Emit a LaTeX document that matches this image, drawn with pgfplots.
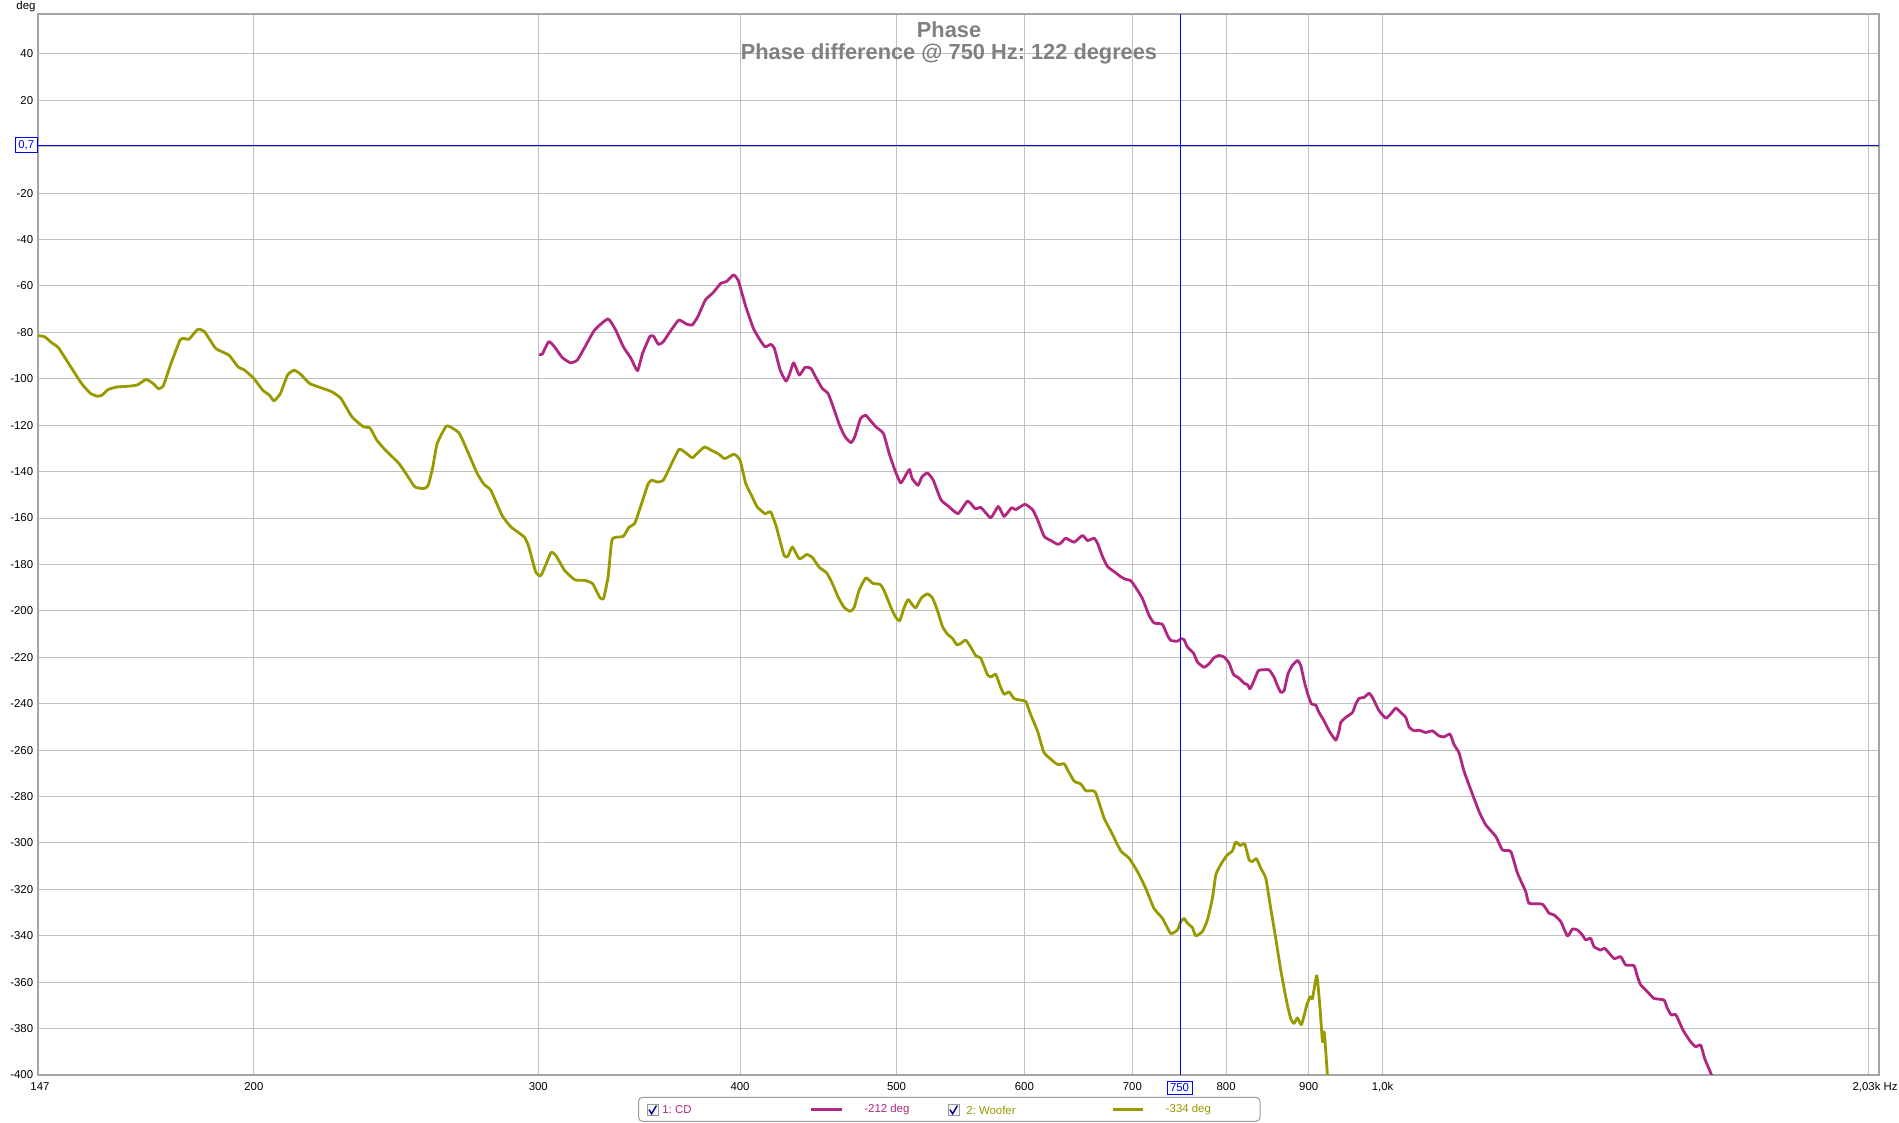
\documentclass[border=0pt]{standalone}
\usepackage{pgfplots}
\usepackage{pgfplotstable}
\pgfplotsset{compat=1.18}
\usepackage{fontspec}
\setmainfont{Liberation Sans}
\frenchspacing
\definecolor{cdcol}{RGB}{176,38,128}
\definecolor{wfcol}{RGB}{153,153,0}
\definecolor{gridcol}{RGB}{192,192,192}
\definecolor{framecol}{RGB}{165,165,165}
\definecolor{titlecol}{RGB}{128,128,128}
\newcommand\tickfont{\fontsize{5.7}{6.8}\selectfont}

\pgfplotstableread{
f deg
300.4 -89.5
301.7 -89.4
304.5 -84.0
307.0 -86.2
310.4 -90.8
314.1 -93.1
317.2 -91.9
320.7 -86.2
325.1 -79.0
331.4 -74.2
335.0 -79.0
338.7 -86.2
342.4 -91.2
345.6 -96.5
348.1 -89.1
351.9 -81.6
353.8 -81.9
356.1 -85.2
358.6 -84.0
362.6 -79.0
366.6 -74.7
370.6 -76.4
373.7 -76.8
376.7 -73.2
380.8 -66.0
385.0 -62.9
389.3 -58.8
392.4 -58.1
396.3 -55.3
398.9 -57.4
403.3 -68.9
407.7 -78.3
411.0 -82.6
414.5 -86.2
417.9 -85.2
420.1 -86.9
423.6 -96.3
427.1 -101.0
429.4 -97.7
431.8 -93.1
435.3 -98.4
438.8 -95.1
442.5 -95.5
446.1 -99.9
449.8 -104.2
453.5 -106.3
457.2 -112.8
461.0 -120.0
464.7 -125.0
468.6 -127.5
471.1 -125.0
475.0 -117.1
478.4 -115.7
481.5 -117.8
485.5 -120.7
490.8 -123.6
494.8 -132.2
498.9 -139.4
503.0 -144.9
507.2 -140.9
509.4 -139.1
511.3 -143.0
515.6 -145.9
518.4 -142.3
522.6 -140.6
526.9 -143.7
532.7 -152.1
538.6 -155.0
545.9 -158.1
553.4 -152.7
559.5 -156.0
564.1 -155.5
571.9 -159.9
578.1 -155.0
582.9 -159.3
589.3 -155.5
592.5 -156.4
600.5 -154.1
607.1 -156.4
611.4 -160.7
617.2 -167.9
623.1 -169.7
629.1 -171.3
632.1 -170.8
636.6 -168.7
644.2 -170.4
651.9 -167.5
656.6 -169.7
662.8 -168.7
666.0 -170.8
670.8 -176.6
675.6 -180.9
682.0 -183.1
688.5 -185.3
693.4 -186.4
698.4 -187.0
703.3 -189.9
710.1 -194.7
716.8 -201.9
721.9 -205.2
730.6 -205.8
735.8 -210.5
739.3 -212.7
746.4 -213.1
750.2 -212.0
753.5 -212.4
757.2 -215.6
763.7 -218.2
768.1 -222.1
775.3 -224.3
780.9 -222.8
786.5 -220.2
792.1 -219.2
797.8 -219.9
803.4 -222.5
808.5 -227.4
815.0 -229.0
820.8 -231.2
824.8 -231.8
827.8 -233.6
832.6 -230.0
837.8 -225.7
844.5 -225.4
850.6 -225.4
856.7 -228.6
860.8 -232.2
864.9 -235.1
869.0 -234.4
873.9 -227.1
879.4 -223.5
885.7 -221.4
889.9 -223.5
894.1 -230.0
898.5 -235.5
903.6 -240.1
909.1 -240.6
913.4 -243.8
920.0 -247.4
926.6 -251.7
935.5 -255.7
939.9 -251.7
942.1 -248.1
948.9 -245.9
958.0 -243.8
962.5 -240.1
967.1 -237.7
974.0 -237.3
980.9 -235.5
985.7 -237.3
995.0 -243.0
1004.6 -246.2
1011.8 -244.4
1019.0 -241.9
1026.3 -243.8
1033.6 -245.9
1038.5 -250.0
1045.9 -251.7
1053.4 -251.4
1063.5 -252.4
1073.7 -251.7
1083.9 -253.9
1091.7 -254.3
1101.0 -253.1
1107.3 -257.6
1115.2 -261.2
1123.2 -269.1
1134.0 -277.0
1147.5 -286.4
1158.5 -292.2
1175.2 -297.2
1186.4 -303.0
1200.6 -303.7
1212.1 -313.0
1226.5 -321.0
1232.3 -326.0
1256.1 -326.4
1268.0 -330.3
1277.0 -331.0
1289.3 -333.9
1301.7 -340.1
1311.0 -337.1
1320.3 -337.5
1329.8 -339.7
1336.1 -341.8
1345.6 -341.1
1352.0 -344.7
1364.9 -346.2
1372.7 -345.4
1391.1 -349.8
1404.4 -349.0
1414.5 -352.6
1431.3 -352.9
1438.3 -357.6
1445.0 -361.2
1458.9 -364.1
1472.7 -367.0
1493.9 -367.7
1501.1 -371.3
1509.7 -374.2
1519.0 -373.9
1529.9 -378.5
1537.1 -381.4
1551.8 -385.7
1562.9 -387.8
1574.1 -387.1
1583.1 -392.9
1592.9 -397.3
1600.6 -400.9
}\cdtable

\pgfplotstableread{
f deg
147.0 -81.4
148.4 -81.9
150.1 -84.8
151.3 -86.5
154.0 -94.8
156.4 -102.0
158.4 -106.3
160.0 -107.5
161.0 -107.1
162.5 -104.6
164.6 -103.5
167.3 -103.2
169.4 -102.6
171.5 -100.3
173.2 -102.0
174.5 -104.2
175.7 -103.2
177.7 -93.4
180.0 -83.3
181.1 -82.6
182.3 -83.0
184.6 -78.7
186.4 -79.7
189.4 -86.9
193.0 -89.8
195.5 -94.8
197.4 -96.3
200.0 -99.9
202.5 -104.9
204.5 -107.1
205.8 -109.5
207.7 -106.3
209.8 -98.4
211.8 -96.3
213.8 -98.1
216.5 -102.0
219.3 -103.5
223.5 -105.6
226.4 -108.5
230.0 -116.4
233.8 -120.7
236.0 -121.2
238.3 -126.5
241.3 -130.8
246.0 -136.6
249.2 -142.3
251.6 -146.6
254.8 -147.3
256.4 -145.9
258.1 -138.0
259.7 -127.9
263.1 -120.4
265.6 -121.4
268.1 -123.6
271.6 -132.2
275.0 -140.9
277.7 -145.5
280.4 -148.1
284.9 -158.9
288.6 -163.9
294.1 -168.2
296.0 -172.5
298.9 -183.3
301.1 -184.8
303.7 -179.0
305.6 -174.7
307.6 -176.1
311.5 -182.6
316.1 -186.6
320.7 -186.9
324.2 -188.3
327.4 -194.1
329.2 -194.8
331.4 -185.5
333.2 -169.6
335.9 -168.2
338.7 -167.9
341.5 -163.9
344.2 -162.4
347.1 -155.2
350.9 -145.2
352.8 -143.7
355.7 -144.5
358.6 -143.7
361.6 -138.7
366.6 -130.5
369.6 -131.5
373.7 -134.0
376.7 -131.9
380.2 -129.4
384.0 -130.8
388.2 -132.5
391.4 -134.4
396.7 -132.5
400.0 -135.1
403.3 -145.2
406.6 -150.2
409.9 -155.2
414.5 -158.1
417.9 -157.4
421.3 -163.9
425.9 -176.1
428.2 -176.5
431.0 -172.5
435.3 -177.6
440.0 -175.7
443.6 -177.1
447.8 -181.2
452.7 -183.7
456.4 -188.4
460.1 -194.1
464.0 -198.5
468.0 -200.2
470.7 -198.5
474.0 -191.2
478.6 -185.8
483.2 -188.1
488.4 -188.6
491.2 -191.2
496.0 -198.5
499.5 -202.8
502.4 -204.2
505.4 -198.7
508.3 -195.1
511.0 -197.0
513.9 -198.7
518.1 -194.4
522.6 -192.7
526.3 -194.4
530.1 -199.9
533.9 -206.8
537.7 -210.0
541.6 -211.9
544.9 -214.6
548.0 -214.0
551.9 -212.6
555.9 -215.7
559.9 -219.4
563.9 -220.4
569.3 -227.6
572.5 -228.4
576.0 -227.3
579.6 -232.3
582.9 -235.9
587.1 -234.9
591.3 -237.8
597.0 -238.5
601.3 -239.1
605.6 -244.9
611.4 -251.8
616.7 -260.7
621.6 -263.3
629.1 -266.2
635.0 -265.9
638.1 -268.4
644.2 -273.4
650.3 -274.6
655.0 -277.5
661.3 -277.5
664.4 -278.5
672.3 -289.3
678.8 -295.0
688.5 -303.4
696.7 -306.6
705.0 -312.3
713.4 -319.5
721.9 -328.2
730.6 -332.5
739.3 -339.0
746.4 -337.5
750.0 -334.0
753.5 -332.5
757.2 -334.6
762.6 -336.5
766.2 -340.0
773.6 -338.2
779.1 -333.2
784.7 -323.8
788.4 -313.8
794.0 -309.4
800.8 -305.4
807.3 -303.4
811.1 -299.6
816.1 -301.1
821.6 -300.5
826.7 -307.3
830.7 -308.0
835.4 -306.8
840.6 -310.9
846.6 -315.2
852.6 -328.2
858.7 -341.1
864.9 -354.8
872.3 -368.5
877.3 -375.7
881.4 -377.8
885.7 -375.4
890.8 -378.3
897.6 -369.9
901.8 -366.3
904.9 -367.0
910.5 -357.2
914.7 -371.3
917.9 -385.7
920.0 -381.4
921.3 -385.7
924.4 -400.1
}\wftable

\begin{document}
\begin{tikzpicture}
\path[use as bounding box] (-19pt,-24pt) rectangle (930.5pt,537.5pt);
\begin{axis}[
  at={(0pt,0pt)}, anchor=south west, scale only axis,
  width=920.5pt, height=530.5pt,
  xmode=log, log basis x=10,
  xmin=147, xmax=2030, ymin=-400, ymax=57.2,
  xtick={200,300,400,500,600,700,800,900,1000,2000},
  xticklabels={200,300,400,500,600,700,800,900,{1,0k},{}},
  ytick={-400,-380,-360,-340,-320,-300,-280,-260,-240,-220,-200,-180,-160,-140,-120,-100,-80,-60,-40,-20,0,20,40},
  yticklabels={-400,-380,-360,-340,-320,-300,-280,-260,-240,-220,-200,-180,-160,-140,-120,-100,-80,-60,-40,-20,{},20,40},
  major tick length=0pt, minor tick num=0,
  xminorgrids=false,
  grid=major,
  major grid style={draw=gridcol, line width=0.5pt},
  axis line style={draw=framecol, line width=1.4pt},
  ticklabel style={font=\tickfont, text=black},
  yticklabel style={anchor=east, inner sep=0pt, xshift=-2.25pt},
  xticklabel style={anchor=center, inner sep=0pt, yshift=-6pt},
  clip=true,
]
\addplot[cdcol, line width=1.4pt, line join=round, smooth, tension=0.3] table[x=f, y=deg] {\cdtable};
\addplot[wfcol, line width=1.4pt, line join=round, smooth, tension=0.3] table[x=f, y=deg] {\wftable};
\draw[blue, line width=0.5pt] (axis cs:750,-400) -- (axis cs:750,57.2);
\draw[blue, line width=0.5pt] (axis cs:147,0.7) -- (axis cs:2030,0.7);
\end{axis}

% title
\node[font=\fontsize{10.9}{12}\selectfont\bfseries, text=titlecol] at (455.5pt,522.6pt) {Phase};
\node[font=\fontsize{10.9}{12}\selectfont\bfseries, text=titlecol] at (455.5pt,510.4pt) {Phase difference @ 750 Hz: 122 degrees};
% axis annotations
\node[font=\tickfont] at (-6pt,534.2pt) {deg};
\node[font=\tickfont, inner sep=0pt] at (1pt,-6pt) {147};
\node[font=\tickfont, inner sep=0pt, anchor=east] at (930pt,-6pt) {2,03k Hz};
\node[draw=blue, text=blue, line width=0.5pt, minimum width=12.5pt, minimum height=6.85pt, inner sep=0pt, font=\tickfont] at (570.75pt,-6.5pt) {750};
\node[draw=blue, fill=white, text=blue, line width=0.5pt, minimum width=10.85pt, minimum height=7.5pt, inner sep=0pt, anchor=east, font=\tickfont] at (-0.2pt,464.75pt) {0,7};
% legend
\draw[rounded corners=2pt, draw=gray!75, fill=white, line width=0.5pt] (300.3pt,-11.15pt) rectangle (611pt,-23.15pt);
\draw[draw=gray!80, fill=gray!8, line width=0.4pt] (304.5pt,-20.25pt) rectangle (310pt,-14.75pt);
\draw[blue!60!black, line width=0.7pt] (305.5pt,-17.3pt) -- (306.8pt,-19.4pt) -- (309.2pt,-15.3pt);
\node[anchor=west, text=cdcol, inner sep=0pt, font=\tickfont] at (312pt,-17.5pt) {1: CD};
\draw[cdcol, line width=1.5pt] (386.5pt,-17.5pt) -- (402pt,-17.5pt);
\node[anchor=west, text=cdcol, inner sep=0pt, font=\tickfont] at (413pt,-17.5pt) {-212 deg};
\draw[draw=gray!80, fill=gray!8, line width=0.4pt] (455pt,-20.25pt) rectangle (460.5pt,-14.75pt);
\draw[blue!60!black, line width=0.7pt] (456pt,-17.3pt) -- (457.3pt,-19.4pt) -- (459.7pt,-15.3pt);
\node[anchor=west, text=wfcol, inner sep=0pt, font=\tickfont] at (464pt,-17.5pt) {2: Woofer};
\draw[wfcol, line width=1.5pt] (537.5pt,-17.5pt) -- (552.5pt,-17.5pt);
\node[anchor=west, text=wfcol, inner sep=0pt, font=\tickfont] at (563.75pt,-17.5pt) {-334 deg};
\end{tikzpicture}
\end{document}
